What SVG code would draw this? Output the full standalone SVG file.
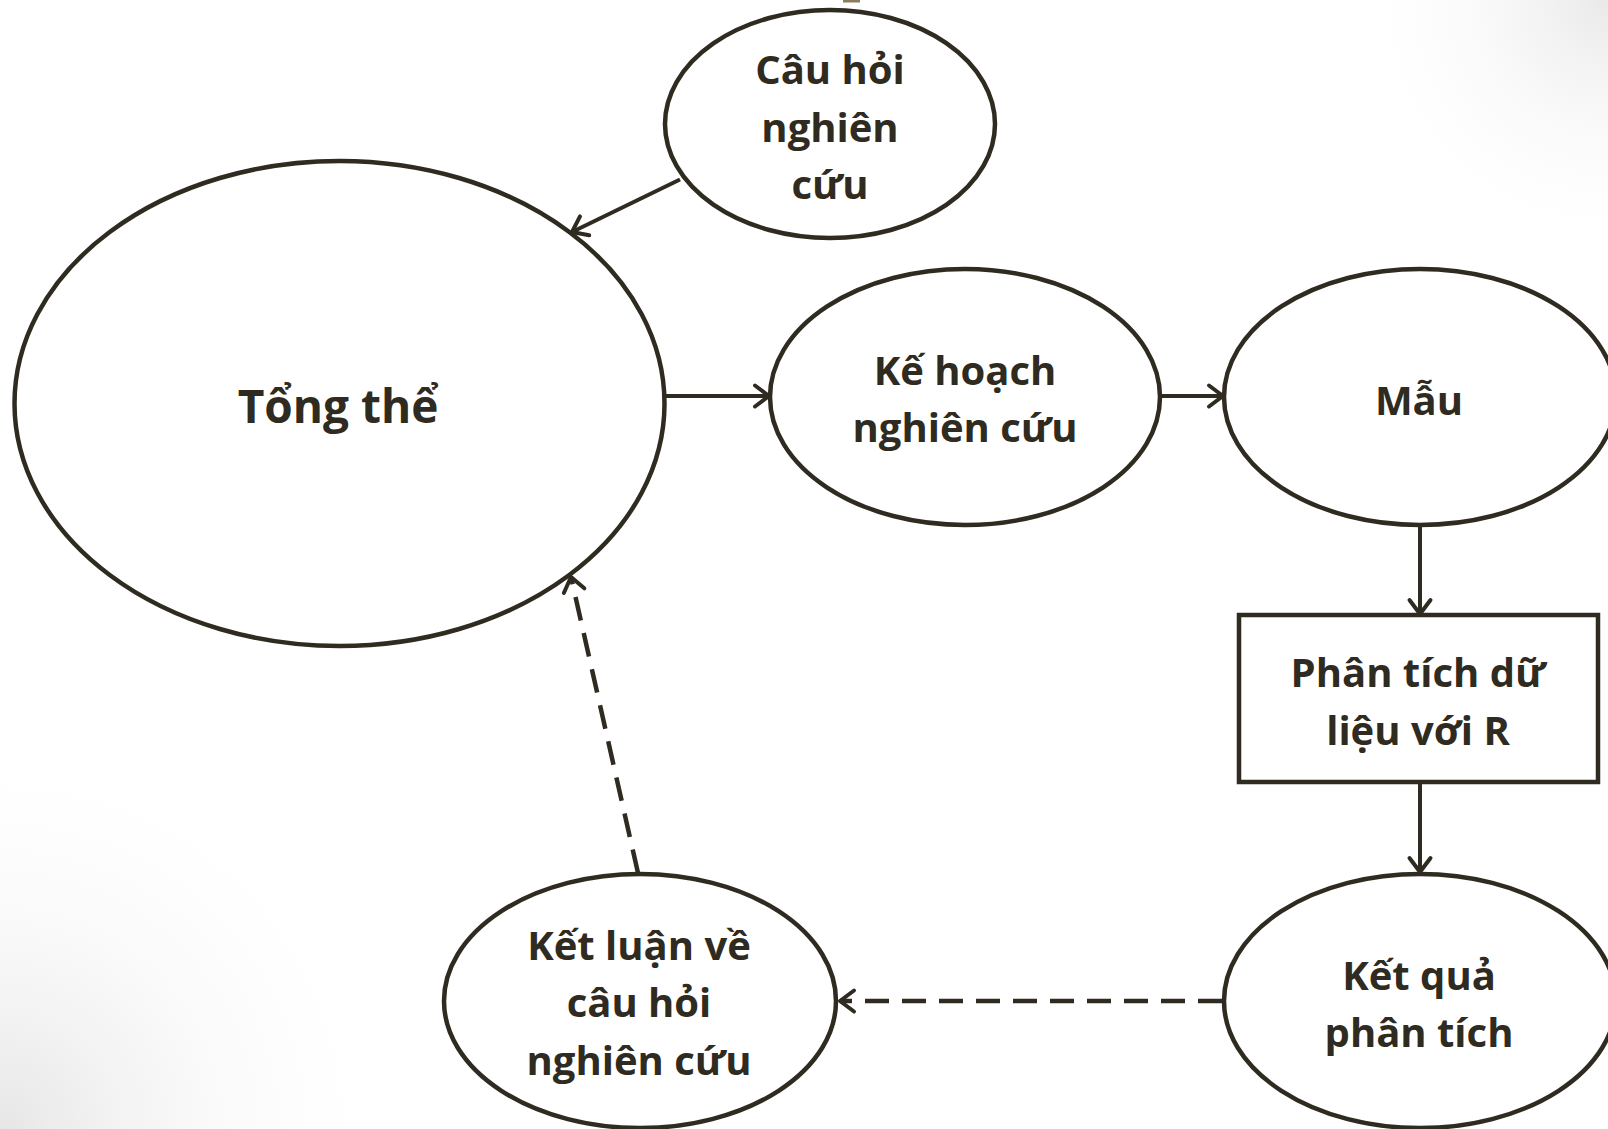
<svg xmlns="http://www.w3.org/2000/svg" width="1608" height="1129" viewBox="0 0 1608 1129">
<defs>
<radialGradient id="gBL" cx="0" cy="1129" r="400" gradientUnits="userSpaceOnUse">
<stop offset="0" stop-color="#e6e6e6"/>
<stop offset="1" stop-color="#ffffff" stop-opacity="0"/>
</radialGradient>
<radialGradient id="gTR" cx="1608" cy="0" r="260" gradientUnits="userSpaceOnUse">
<stop offset="0" stop-color="#e9e9e9"/>
<stop offset="1" stop-color="#ffffff" stop-opacity="0"/>
</radialGradient>
<marker id="arr" markerUnits="userSpaceOnUse" markerWidth="30" markerHeight="30" viewBox="0 0 30 30" refX="26" refY="15" orient="auto">
<path d="M12,4.5 L26,15 L12,25.5" fill="none" stroke="#2f2b21" stroke-width="4" stroke-linecap="round" stroke-linejoin="round"/>
</marker>
</defs>
<style>
.n{fill:#ffffff;stroke:#2f2b21;stroke-width:4.5}
.t{font-family:"Open Sans","Noto Sans",sans-serif;font-weight:bold;font-size:40px;fill:#2f2b21;text-anchor:middle}
.c{fill:none;stroke:#2f2b21;stroke-width:4}
.d{fill:none;stroke:#2f2b21;stroke-width:4.5;stroke-dasharray:24 13}
</style>
<rect x="0" y="0" width="1608" height="1129" fill="#ffffff"/>
<rect x="0" y="0" width="1608" height="1129" fill="url(#gBL)"/>
<rect x="0" y="0" width="1608" height="1129" fill="url(#gTR)"/>
<rect x="843" y="0" width="17" height="2.5" fill="#8a7e5e"/>
<g id="connectors">
<line class="c" x1="680" y1="179.5" x2="572" y2="232" marker-end="url(#arr)"/>
<line class="c" x1="666" y1="396" x2="769" y2="396" marker-end="url(#arr)"/>
<line class="c" x1="1161" y1="396" x2="1223" y2="396" marker-end="url(#arr)"/>
<line class="c" x1="1420" y1="526" x2="1420" y2="614" marker-end="url(#arr)"/>
<line class="c" x1="1420" y1="783" x2="1420" y2="872" marker-end="url(#arr)"/>
<line class="d" x1="1222" y1="1001" x2="840" y2="1001" marker-end="url(#arr)"/>
<line class="d" x1="638" y1="873" x2="571" y2="577" marker-end="url(#arr)"/>
</g>
<g id="cau-hoi">
<ellipse class="n" cx="830" cy="124" rx="165" ry="114"/>
<text class="t" x="830" y="84">Câu hỏi</text>
<text class="t" x="830" y="141.5">nghiên</text>
<text class="t" x="830" y="199">cứu</text>
</g>
<g id="tong-the">
<ellipse class="n" cx="339.5" cy="403.5" rx="325" ry="242.5"/>
<text class="t" x="338" y="422.5" style="font-size:46px">Tổng thể</text>
</g>
<g id="ke-hoach">
<ellipse class="n" cx="965" cy="397" rx="195" ry="128"/>
<text class="t" x="965" y="384.5">Kế hoạch</text>
<text class="t" x="965" y="442">nghiên cứu</text>
</g>
<g id="mau">
<ellipse class="n" cx="1420" cy="397" rx="196" ry="128"/>
<text class="t" x="1419" y="415">Mẫu</text>
</g>
<g id="phan-tich">
<rect class="n" x="1239" y="615" width="359" height="167"/>
<text class="t" x="1418" y="687">Phân tích dữ</text>
<text class="t" x="1418" y="744.5">liệu với R</text>
</g>
<g id="ket-qua">
<ellipse class="n" cx="1420" cy="1001" rx="196" ry="127"/>
<text class="t" x="1419" y="989.5">Kết quả</text>
<text class="t" x="1419" y="1047">phân tích</text>
</g>
<g id="ket-luan">
<ellipse class="n" cx="640" cy="1001" rx="196" ry="127"/>
<text class="t" x="639" y="960">Kết luận về</text>
<text class="t" x="639" y="1017">câu hỏi</text>
<text class="t" x="639" y="1075">nghiên cứu</text>
</g>
</svg>
